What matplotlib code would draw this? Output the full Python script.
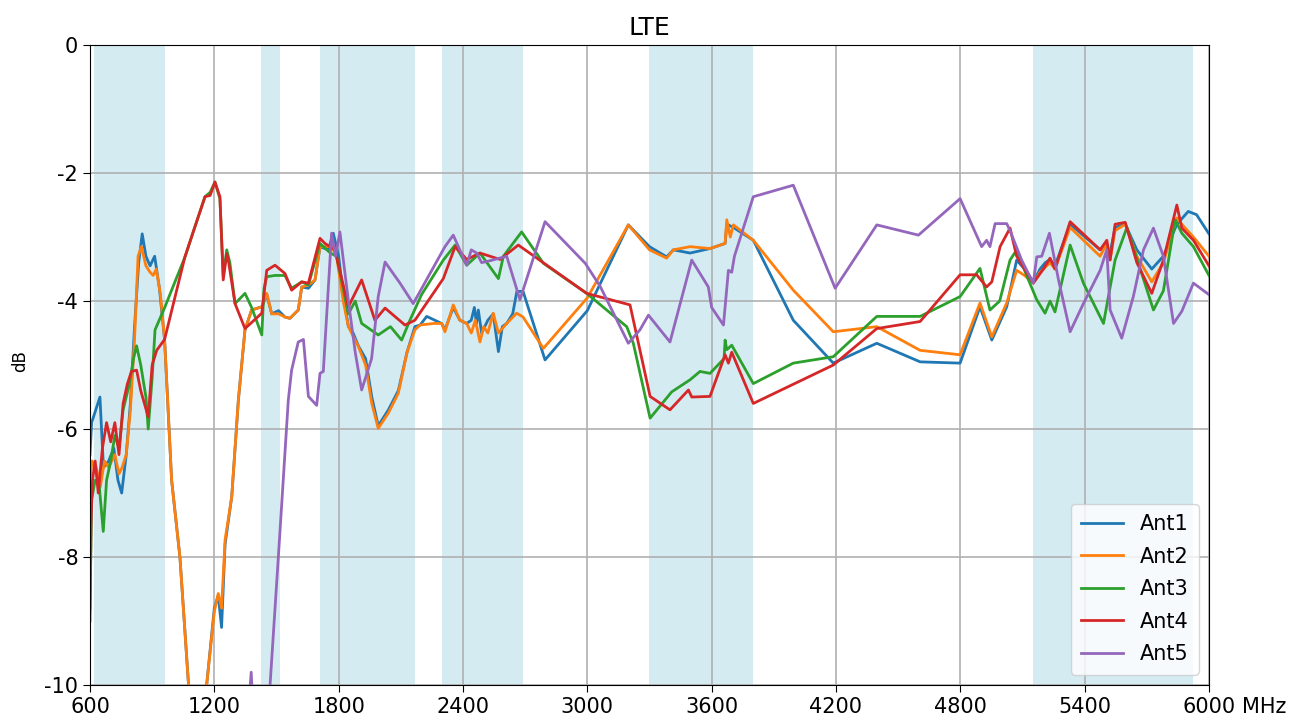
import matplotlib
matplotlib.use("Agg")
import matplotlib.pyplot as plt

plt.rcParams['axes.unicode_minus'] = False
plt.rcParams['font.family'] = ['DejaVu Sans']

title = "LTE"
xticks = [600, 1200, 1800, 2400, 3000, 3600, 4200, 4800, 5400, 6000]
yticks = [0, -2, -4, -6, -8, -10]
bands = [(617, 960), (1427, 1518), (1710, 2170), (2300, 2690), (3300, 3800), (5150, 5925)]
labels = ["Ant1", "Ant2", "Ant3", "Ant4", "Ant5"]

ant1_f = [600, 608, 648, 665, 690, 715, 735, 753, 775, 795, 815, 835, 852, 870, 890, 912, 935, 960,
          994, 1034, 1075, 1120, 1163, 1200, 1219, 1235, 1252, 1284, 1316, 1348, 1380, 1429, 1453, 1477,
          1510, 1541, 1565, 1605, 1622, 1654, 1686, 1710, 1750, 1774, 1800, 1822, 1847, 1870, 1895, 1930,
          1960, 1991, 2040, 2088, 2130, 2168, 2193, 2225, 2297, 2313, 2353, 2385, 2418, 2440, 2455, 2465,
          2474, 2490, 2520, 2546, 2571, 2590, 2611, 2640, 2660, 2690, 2796, 3000, 3198, 3300, 3383, 3415,
          3496, 3592, 3665, 3673, 3705, 3801, 3994, 4187, 4397, 4606, 4799, 4895, 4952, 5024, 5072, 5110,
          5152, 5185, 5210, 5233, 5257, 5330, 5475, 5500, 5520, 5547, 5596, 5652, 5724, 5780, 5845, 5900,
          5940, 6000]
ant1_db = [-6.4, -5.9, -5.5, -6.6, -6.5, -6.3, -6.8, -7.0, -6.4, -5.6, -4.4, -3.4, -2.95, -3.3, -3.45,
           -3.3, -3.8, -4.6, -6.8, -8.0, -9.97, -10.8, -10.0, -8.8, -8.6, -9.1, -7.8, -7.06, -5.55, -4.45,
           -4.14, -4.09, -3.9, -4.2, -4.15, -4.25, -4.27, -4.14, -3.78, -3.8, -3.67, -3.15, -3.2, -2.94,
           -3.3, -3.9, -4.4, -4.5, -4.7, -4.9, -5.5, -5.95, -5.7, -5.4, -4.8, -4.4, -4.375, -4.24, -4.35,
           -4.45, -4.1, -4.3, -4.35, -4.3, -4.1, -4.35, -4.14, -4.5, -4.3, -4.2, -4.79, -4.4, -4.35, -4.2,
           -3.85, -3.85, -4.92, -4.15, -2.81, -3.15, -3.31, -3.2, -3.25, -3.18, -3.10, -2.8, -2.85, -3.05,
           -4.30, -4.97, -4.66, -4.95, -4.97, -4.09, -4.61, -4.09, -3.36, -3.5, -3.7, -3.5, -3.4, -3.35,
           -3.45, -2.8, -3.2, -3.1, -3.3, -2.85, -2.8, -3.2, -3.5, -3.3, -2.8, -2.6, -2.65, -2.95]

ant2_f = [600, 610, 630, 650, 670, 690, 720, 740, 755, 775, 795, 815, 832, 848, 870, 890, 905, 920, 940,
          960, 994, 1034, 1075, 1120, 1163, 1200, 1219, 1235, 1252, 1284, 1316, 1348, 1380, 1429, 1453,
          1477, 1510, 1541, 1565, 1605, 1622, 1654, 1686, 1710, 1766, 1790, 1822, 1847, 1895, 1930, 1960,
          1991, 2040, 2088, 2130, 2168, 2193, 2260, 2297, 2313, 2353, 2385, 2418, 2440, 2460, 2482, 2500,
          2520, 2546, 2571, 2611, 2659, 2690, 2788, 3000, 3198, 3300, 3383, 3415, 3496, 3592, 3665, 3673,
          3690, 3705, 3801, 3994, 4187, 4397, 4606, 4799, 4895, 4952, 5024, 5072, 5110, 5152, 5185, 5233,
          5257, 5330, 5475, 5507, 5523, 5547, 5596, 5652, 5724, 5780, 5845, 5869, 5925, 6000]
ant2_db = [-6.8, -6.5, -6.6, -6.9, -6.5, -6.6, -6.4, -6.7, -6.6, -6.4, -5.7, -4.6, -3.3, -3.15, -3.45,
           -3.55, -3.6, -3.5, -3.9, -4.6, -6.8, -8.0, -9.97, -10.8, -10.0, -8.85, -8.57, -8.8, -7.73, -7.06,
           -5.55, -4.45, -4.14, -4.09, -3.88, -4.2, -4.2, -4.25, -4.27, -4.14, -3.78, -3.75, -3.67, -3.15,
           -3.15, -3.3, -4.0, -4.40, -4.71, -5.0, -5.6, -5.99, -5.75, -5.44, -4.8, -4.45, -4.375, -4.35,
           -4.35, -4.48, -4.06, -4.3, -4.35, -4.5, -4.3, -4.64, -4.4, -4.5, -4.19, -4.5, -4.35, -4.19,
           -4.25, -4.74, -3.95, -2.81, -3.2, -3.33, -3.2, -3.15, -3.18, -3.10, -2.73, -3.0, -2.81, -3.05,
           -3.83, -4.48, -4.40, -4.77, -4.84, -4.03, -4.56, -4.03, -3.52, -3.6, -3.72, -3.55, -3.4, -3.5,
           -2.85, -3.3, -3.1, -3.35, -2.9, -2.8, -3.3, -3.7, -3.4, -2.7, -2.8, -3.0, -3.3]

ant3_f = [600, 608, 625, 645, 664, 680, 700, 720, 740, 760, 790, 810, 825, 845, 870, 881, 900, 914, 962,
          1010, 1060, 1100, 1155, 1180, 1203, 1227, 1243, 1260, 1275, 1300, 1348, 1380, 1429, 1440, 1453,
          1493, 1541, 1573, 1622, 1654, 1710, 1760, 1790, 1847, 1880, 1911, 1991, 2050, 2104, 2144, 2200,
          2305, 2362, 2418, 2482, 2571, 2595, 2683, 2788, 2997, 3190, 3222, 3303, 3407, 3496, 3544, 3592,
          3660, 3665, 3673, 3697, 3801, 3994, 4187, 4397, 4606, 4799, 4895, 4943, 4990, 5040, 5072, 5120,
          5169, 5209, 5233, 5257, 5330, 5394, 5491, 5547, 5604, 5732, 5780, 5837, 5869, 5925, 6000]
ant3_db = [-8.8, -7.1, -6.8, -6.9, -7.6, -6.8, -6.5, -6.1, -6.3, -5.7, -5.3, -4.9, -4.7, -5.0, -5.5,
           -6.0, -5.2, -4.45, -4.09, -3.7, -3.3, -2.9, -2.37, -2.3, -2.14, -2.4, -3.6, -3.2, -3.4, -4.04,
           -3.88, -4.1, -4.53, -3.8, -3.62, -3.6, -3.6, -3.8, -3.7, -3.75, -3.1, -3.25, -3.3, -4.2, -4.0,
           -4.35, -4.53, -4.4, -4.61, -4.3, -3.9, -3.36, -3.125, -3.44, -3.25, -3.65, -3.3, -2.92, -3.41,
           -3.88, -4.40, -4.66, -5.83, -5.42, -5.23, -5.10, -5.13, -4.9, -4.61, -4.76, -4.69, -5.29, -4.97,
           -4.87, -4.24, -4.24, -3.93, -3.49, -4.14, -4.0, -3.36, -3.2, -3.6, -3.98, -4.19, -4.0, -4.17,
           -3.125, -3.72, -4.35, -3.36, -2.85, -4.14, -3.84, -2.73, -2.94, -3.15, -3.6]

ant4_f = [600, 605, 612, 625, 640, 660, 680, 700, 720, 740, 760, 780, 800, 825, 845, 881, 900, 922, 960,
          1058, 1155, 1180, 1203, 1227, 1243, 1260, 1268, 1300, 1348, 1429, 1453, 1493, 1541, 1573, 1622,
          1654, 1710, 1734, 1782, 1847, 1911, 1975, 2024, 2120, 2168, 2305, 2362, 2418, 2482, 2579, 2667,
          2997, 3206, 3303, 3399, 3488, 3504, 3592, 3665, 3681, 3697, 3801, 4187, 4397, 4606, 4799, 4879,
          4927, 4952, 4992, 5040, 5072, 5152, 5201, 5233, 5257, 5330, 5475, 5507, 5523, 5547, 5596, 5652,
          5724, 5780, 5845, 5869, 5925, 6000]
ant4_db = [-9.0, -7.5, -6.8, -6.5, -7.0, -6.3, -5.9, -6.2, -5.9, -6.4, -5.6, -5.3, -5.1, -5.08, -5.4,
           -5.81, -5.0, -4.77, -4.6, -3.31, -2.37, -2.35, -2.14, -2.37, -3.67, -3.26, -3.37, -4.04, -4.43,
           -4.19, -3.52, -3.44, -3.57, -3.83, -3.7, -3.72, -3.02, -3.1, -3.2, -4.09, -3.67, -4.3, -4.11,
           -4.375, -4.3, -3.65, -3.15, -3.35, -3.25, -3.35, -3.125, -3.88, -4.06, -5.49, -5.70, -5.39,
           -5.5, -5.49, -4.84, -4.97, -4.8, -5.60, -5.0, -4.43, -4.32, -3.59, -3.59, -3.78, -3.7, -3.15,
           -2.86, -3.3, -3.72, -3.5, -3.33, -3.5, -2.76, -3.2, -3.05, -3.36, -2.8, -2.77, -3.4, -3.88,
           -3.36, -2.5, -2.86, -3.05, -3.45]

ant5_f = [1360, 1378, 1390, 1469, 1509, 1557, 1573, 1605, 1630, 1654, 1694, 1710, 1726, 1766, 1785, 1806,
          1847, 1880, 1911, 1959, 1991, 2024, 2096, 2160, 2313, 2353, 2418, 2440, 2466, 2490, 2530, 2611,
          2675, 2796, 2990, 3062, 3198, 3254, 3295, 3399, 3504, 3584, 3600, 3657, 3681, 3697, 3710, 3801,
          3994, 4196, 4397, 4598, 4799, 4903, 4927, 4943, 4968, 5024, 5040, 5096, 5152, 5169, 5193, 5230,
          5274, 5330, 5394, 5475, 5507, 5523, 5579, 5635, 5684, 5732, 5780, 5829, 5869, 5925, 6000]
ant5_db = [-10.6, -9.8, -10.6, -10.0, -8.0, -5.55, -5.08, -4.64, -4.6, -5.49, -5.63, -5.13, -5.1, -2.94,
           -3.3, -2.92, -4.0, -4.8, -5.39, -4.9, -3.93, -3.39, -3.72, -4.04, -3.15, -2.97, -3.44, -3.2,
           -3.25, -3.4, -3.37, -3.3, -3.98, -2.76, -3.41, -3.77, -4.66, -4.45, -4.22, -4.64, -3.36, -3.78,
           -4.1, -4.375, -3.52, -3.55, -3.3, -2.37, -2.19, -3.80, -2.81, -2.97, -2.40, -3.15, -3.05, -3.15,
           -2.79, -2.79, -2.9, -3.36, -3.72, -3.31, -3.3, -2.94, -3.67, -4.48, -4.04, -3.52, -3.2, -4.14,
           -4.58, -3.93, -3.2, -2.86, -3.3, -4.35, -4.16, -3.72, -3.9]

series = [(ant1_f, ant1_db), (ant2_f, ant2_db), (ant3_f, ant3_db), (ant4_f, ant4_db), (ant5_f, ant5_db)]
colors = ["#1f77b4", "#ff7f0e", "#2ca02c", "#d62728", "#9467bd"]

fig = plt.figure(figsize=(13.06, 7.22), dpi=100)
ax = fig.add_axes([0.0689, 0.0512, 0.8568, 0.8864])

for lo, hi in bands:
    ax.axvspan(lo, hi, color="lightblue", alpha=0.5, lw=0, zorder=0)

for (f, d), lab, c in zip(series, labels, colors):
    ax.plot(f, d, color=c, lw=2, label=lab)

ax.set_xlim(600, 6000)
ax.set_ylim(-10, 0)
ax.set_xticks(xticks)
ax.set_yticks(yticks)
ax.tick_params(labelsize=15, length=5)
ax.grid(True, color="#b0b0b0", lw=1.2)
ax.set_title(title, fontsize=18, pad=7)
fig.text(20 / 1306, 1 - 361 / 722, "dB", rotation=90, ha="center", va="center", fontsize=12)
fig.text(1264 / 1306, 1 - 707 / 722, "MHz", ha="center", va="center", fontsize=15)
ax.legend(loc="lower right", fontsize=15, handlelength=2.0, labelspacing=0.6, borderpad=0.5)

fig.savefig("out.png", dpi=100)
